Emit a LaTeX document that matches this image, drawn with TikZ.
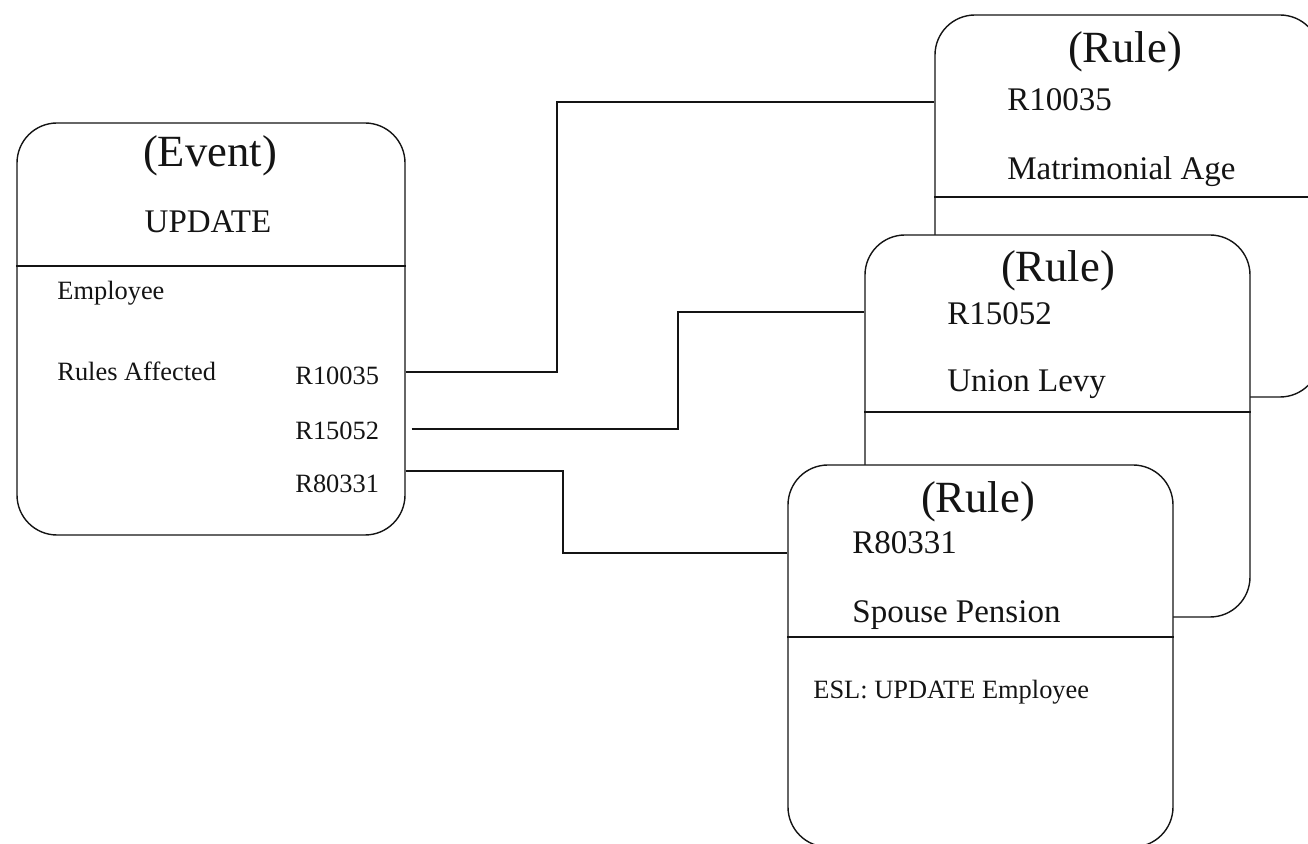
\documentclass[tikz,border=0pt]{standalone}
\usepackage{fontspec}
\setmainfont{Liberation Serif}
\usepackage{tikz}
\definecolor{ink}{HTML}{141414}

\begin{document}
\begin{tikzpicture}[
  x=0.5pt,y=-0.5pt,
  card/.style={draw=ink,fill=white,line width=0.7pt,rounded corners=20pt,
               minimum width=192.5pt,minimum height=191pt,inner sep=0pt},
  ttl/.style={inner sep=0pt,anchor=base,font=\fontsize{22.3}{26}\selectfont,text=ink},
  mid/.style={inner sep=0pt,anchor=base west,font=\fontsize{16.5}{20}\selectfont,text=ink},
  sml/.style={inner sep=0pt,anchor=base west,font=\fontsize{13.2}{16}\selectfont,text=ink},
  ln/.style={draw=ink,line width=0.7pt}
]
\useasboundingbox (0,0) rectangle (1308,844);
\clip (0,0) rectangle (1308,844);

% event card
\node[card,minimum width=194pt,minimum height=206pt] (event) at (211,329) {};
\draw[ln] (event.west |- 0,266) -- (event.east |- 0,266);
\node[ttl] (evtitle) at (210,167) {(Event)};
\node[mid,anchor=base] (evname) at (208,233) {UPDATE};
\node[sml] (evobj) at (57,300) {Employee};
\node[sml] (evrules) at (57,381) {Rules Affected};
\node[sml] (evr1) at (295,385) {R10035};
\node[sml] (evr2) at (295,440) {R15052};
\node[sml] (evr3) at (295,493) {R80331};

% rule cards, stacked back to front
\node[card] (rmat) at (1127.5,206) {};
\draw[ln] (rmat.west |- 0,197) -- (rmat.east |- 0,197);
\node[ttl] (mattitle) at (1125,63) {(Rule)};
\node[mid] (matid) at (1007,111) {R10035};
\node[mid] (matname) at (1007,180) {Matrimonial Age};

\node[card] (rlevy) at (1057.5,426) {};
\draw[ln] (rlevy.west |- 0,412) -- (rlevy.east |- 0,412);
\node[ttl] (levytitle) at (1058,282) {(Rule)};
\node[mid] (levyid) at (947,325) {R15052};
\node[mid] (levyname) at (947,392) {Union Levy};

\node[card] (rpen) at (980.5,656) {};
\draw[ln] (rpen.west |- 0,637) -- (rpen.east |- 0,637);
\node[ttl] (pentitle) at (978,513) {(Rule)};
\node[mid] (penid) at (852,554) {R80331};
\node[mid] (penname) at (852,623) {Spouse Pension};
\node[sml] (penesl) at (813,699) {ESL: UPDATE Employee};

% links from affected rules
\draw[ln] (event.east |- 0,372) -- (557,372) |- (rmat.west |- 0,102);
\draw[ln] ([xshift=3pt]event.east |- 0,429) -- (678,429) |- (rlevy.west |- 0,312);
\draw[ln] (event.east |- 0,471) -- (563,471) |- (rpen.west |- 0,553);
\end{tikzpicture}
\end{document}
